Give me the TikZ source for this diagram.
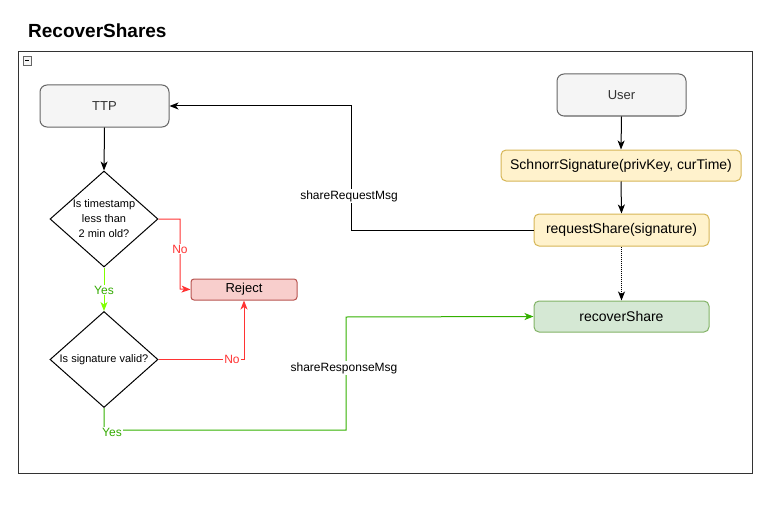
\documentclass[tikz,border=0pt]{standalone}
\usepackage{fontspec}
\setmainfont{Liberation Sans}
\usetikzlibrary{shapes.geometric,arrows.meta}
\definecolor{grayfill}{HTML}{F5F5F5}
\definecolor{graystroke}{HTML}{666666}
\definecolor{grayText}{HTML}{333333}
\definecolor{yfill}{HTML}{FFF2CC}
\definecolor{ystroke}{HTML}{D6B656}
\definecolor{gfill}{HTML}{D5E8D4}
\definecolor{gstroke}{HTML}{82B366}
\definecolor{rfill}{HTML}{F8CECC}
\definecolor{rstroke}{HTML}{B85450}
\definecolor{redline}{HTML}{FF3333}
\definecolor{limeline}{HTML}{80FF00}
\definecolor{greenline}{HTML}{33B000}
\definecolor{greenlabel}{HTML}{33AA00}
\definecolor{framec}{HTML}{333333}
\tikzset{
  box/.style={draw, rounded corners=5pt, minimum height=#1, inner sep=0pt, line width=1pt},
  graybox/.style={box=42pt, rounded corners=7pt, fill=grayfill, draw=graystroke, text=grayText, font=\fontsize{13}{15}\selectfont, minimum width=129pt},
  ybox/.style={box=32pt, fill=yfill, draw=ystroke, font=\fontsize{14}{16}\selectfont},
  decision/.style={diamond, draw, line width=1pt, aspect=1.125, inner sep=0pt, minimum width=108pt, minimum height=96pt},
  dtext/.style={align=center, inner sep=0pt, font=\fontsize{11}{15}\selectfont},
  conn/.style={line width=1pt, -{Stealth[length=9pt,width=7pt,inset=2.5pt]}},
  lbl/.style={fill=white, inner sep=1pt, font=\fontsize{12}{14}\selectfont},
}
\begin{document}
\begin{tikzpicture}[x=1pt,y=-1pt]
\useasboundingbox (0,0) rectangle (778,508);
\node[anchor=base west, inner sep=0pt, font=\bfseries\fontsize{19}{23}\selectfont] (title) at (28,38) {RecoverShares};
\draw[framec, line width=1pt] (18,52) rectangle (752,473);
\draw[graystroke, fill=grayfill, line width=0.5pt] (23,56) rectangle (31,65);
\draw[black, line width=1pt] (25,60.5) -- (29,60.5);

\node[graybox, minimum width=129pt, minimum height=42pt] (ttp) at (104.5,106) {TTP};
\node[graybox, minimum width=129pt, minimum height=42pt] (user) at (621.5,95) {User};
\node[ybox, minimum width=240pt, minimum height=31pt] (sch) at (621,165.5) {SchnorrSignature(privKey, curTime)};
\node[ybox, minimum width=175pt, minimum height=32pt] (req) at (621.5,230) {requestShare(signature)};
\node[box=31pt, fill=gfill, draw=gstroke, minimum width=175pt, font=\fontsize{14}{16}\selectfont] (rec) at (621.5,316.5) {recoverShare};
\node[box=21pt, rounded corners=3pt, fill=rfill, draw=rstroke, minimum width=106pt, font=\fontsize{13}{15}\selectfont] (rej) at (244,289.5) {Reject};

\node[decision] (d1) at (104,219) {};
\node[dtext] (d1t) at (d1) {Is timestamp\\less than\\2 min old?};
\node[decision] (d2) at (104,359.5) {};
\node[dtext] (d2t) at (d2) {Is signature valid?};

\draw[conn] (ttp.south) -- (d1.north);
\draw[conn] (user.south) -- (sch.north);
\draw[conn] (sch.south) -- (req.north);
\draw[conn, densely dotted] (req.south) -- (rec.north);
\draw[conn] (req.west) -- (351,230) -- (351,106) -- (ttp.east);
\node[lbl] (lreq) at (349,196) {shareRequestMsg};

\draw[conn, redline] (d1.east) -- (180,219) -- (180,289) -- (rej.west);
\node[lbl, text=redline] (lno1) at (180,249) {No};
\draw[conn, redline] (d2.east) -- (244,359.5) -- (rej.south);
\node[lbl, text=redline] (lno2) at (232,359.5) {No};

\draw[conn, limeline] (d1.south) -- (d2.north);
\node[lbl, text=greenlabel] (lyes1) at (104,290) {Yes};
\draw[conn, greenline] (d2.south) -- (104,430) -- (346,430) -- (346,317) -- (rec.west);
\node[lbl, text=greenlabel] (lyes2) at (112,432) {Yes};
\node[lbl] (lresp) at (344,368) {shareResponseMsg};
\end{tikzpicture}
\end{document}
